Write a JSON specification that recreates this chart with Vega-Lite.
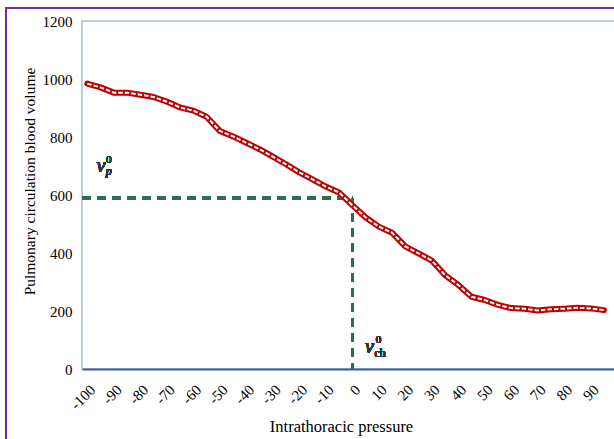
{
  "$schema": "https://vega.github.io/schema/vega-lite/v6.json",
  "autosize": "none",
  "width": 540,
  "height": 348,
  "padding": {"left": 82, "top": 21, "right": 0, "bottom": 70},
  "background": "white",
  "config": {
    "view": {"stroke": "#a9bcdc", "strokeWidth": 1.5},
    "axis": {"labelFont": "Liberation Serif", "titleFont": "Liberation Serif", "labelColor": "#000", "titleColor": "#000", "titleFontWeight": "normal", "grid": false, "ticks": false}
  },
  "data": {"values": [
    {"p": -100, "v": 984}, {"p": -95, "v": 971}, {"p": -90, "v": 953}, {"p": -85, "v": 953},
    {"p": -80, "v": 946}, {"p": -75, "v": 938}, {"p": -70, "v": 922}, {"p": -65, "v": 902},
    {"p": -60, "v": 891}, {"p": -55, "v": 870}, {"p": -50, "v": 821}, {"p": -45, "v": 802},
    {"p": -40, "v": 780}, {"p": -35, "v": 758}, {"p": -30, "v": 732}, {"p": -25, "v": 706},
    {"p": -20, "v": 678}, {"p": -15, "v": 654}, {"p": -10, "v": 629}, {"p": -5, "v": 609},
    {"p": 0, "v": 565}, {"p": 5, "v": 523}, {"p": 10, "v": 491}, {"p": 15, "v": 470},
    {"p": 20, "v": 423}, {"p": 25, "v": 399}, {"p": 30, "v": 374}, {"p": 35, "v": 324},
    {"p": 40, "v": 290}, {"p": 45, "v": 249}, {"p": 50, "v": 238}, {"p": 55, "v": 221},
    {"p": 60, "v": 210}, {"p": 65, "v": 208}, {"p": 70, "v": 202}, {"p": 75, "v": 206},
    {"p": 80, "v": 208}, {"p": 85, "v": 211}, {"p": 90, "v": 209}, {"p": 95, "v": 203}
  ]},
  "encoding": {
    "x": {"field": "p", "type": "quantitative",
      "scale": {"domain": [-102, 101.8], "nice": false, "zero": false},
      "axis": {"values": [-100, -90, -80, -70, -60, -50, -40, -30, -20, -10, 0, 10, 20, 30, 40, 50, 60, 70, 80, 90],
        "labelExpr": "'' + datum.value",
        "labelAngle": 315, "labelFontSize": 15, "labelPadding": 13, "domainColor": "#3d5a9a", "domainWidth": 2,
        "title": "Intrathoracic pressure", "titleFontSize": 16.5, "titleX": 259, "titleY": 62, "titleBaseline": "alphabetic"}},
    "y": {"field": "v", "type": "quantitative",
      "scale": {"domain": [0, 1200], "nice": false},
      "axis": {"values": [0, 200, 400, 600, 800, 1000, 1200], "format": "d", "domain": false, "labelFontSize": 15, "labelPadding": 10,
        "title": "Pulmonary circulation blood volume", "titleFontSize": 15.5, "titlePadding": 5, "titleY": 160}}
  },
  "layer": [
    {"mark": {"type": "rect", "fillOpacity": 0, "stroke": "#7030a0", "strokeWidth": 1.5, "clip": false},
      "encoding": {"x": {"datum": -130.7}, "x2": {"datum": 200}, "y": {"datum": 1244.8}, "y2": {"datum": -400}}},
    {"mark": {"type": "rule", "color": "#2e6e52", "strokeWidth": 2.5, "strokeDash": [9, 6]},
      "encoding": {"x": {"datum": -102}, "x2": {"datum": 0}, "y": {"datum": 590}}},
    {"mark": {"type": "rule", "color": "#2e6e52", "strokeWidth": 2.5, "strokeDash": [9, 6]},
      "encoding": {"x": {"datum": 0}, "y": {"datum": 590}, "y2": {"datum": 0}}},
    {"mark": {"type": "line", "color": "#c00000", "strokeWidth": 6, "strokeJoin": "round", "strokeCap": "round"}},
    {"mark": {"type": "line", "color": "#ffffff", "strokeWidth": 2, "strokeDash": [4.5, 2]}},
    {"mark": {"type": "text", "text": "v", "font": "Liberation Serif", "fontStyle": "italic", "fontWeight": "normal", "fontSize": 20, "align": "left", "baseline": "alphabetic", "color": "#333"},
      "encoding": {"x": {"datum": -96.5}, "y": {"datum": 679}}},
    {"mark": {"type": "text", "text": "0", "font": "Liberation Serif", "fontWeight": "normal", "fontSize": 11, "align": "left", "baseline": "alphabetic", "color": "#333"},
      "encoding": {"x": {"datum": -92.9}, "y": {"datum": 712}}},
    {"mark": {"type": "text", "text": "p", "font": "Liberation Serif", "fontStyle": "italic", "fontWeight": "normal", "fontSize": 12, "align": "left", "baseline": "alphabetic", "color": "#333"},
      "encoding": {"x": {"datum": -93}, "y": {"datum": 670}}},
    {"mark": {"type": "text", "text": "v", "font": "Liberation Serif", "fontStyle": "italic", "fontWeight": "normal", "fontSize": 20, "align": "left", "baseline": "alphabetic", "color": "#333"},
      "encoding": {"x": {"datum": 4.8}, "y": {"datum": 55}}},
    {"mark": {"type": "text", "text": "0", "font": "Liberation Serif", "fontWeight": "normal", "fontSize": 11, "align": "left", "baseline": "alphabetic", "color": "#333"},
      "encoding": {"x": {"datum": 8.9}, "y": {"datum": 91}}},
    {"mark": {"type": "text", "text": "ch", "font": "Liberation Serif", "fontWeight": "normal", "fontSize": 12, "align": "left", "baseline": "alphabetic", "color": "#333"},
      "encoding": {"x": {"datum": 8.4}, "y": {"datum": 40}}}
  ]
}
